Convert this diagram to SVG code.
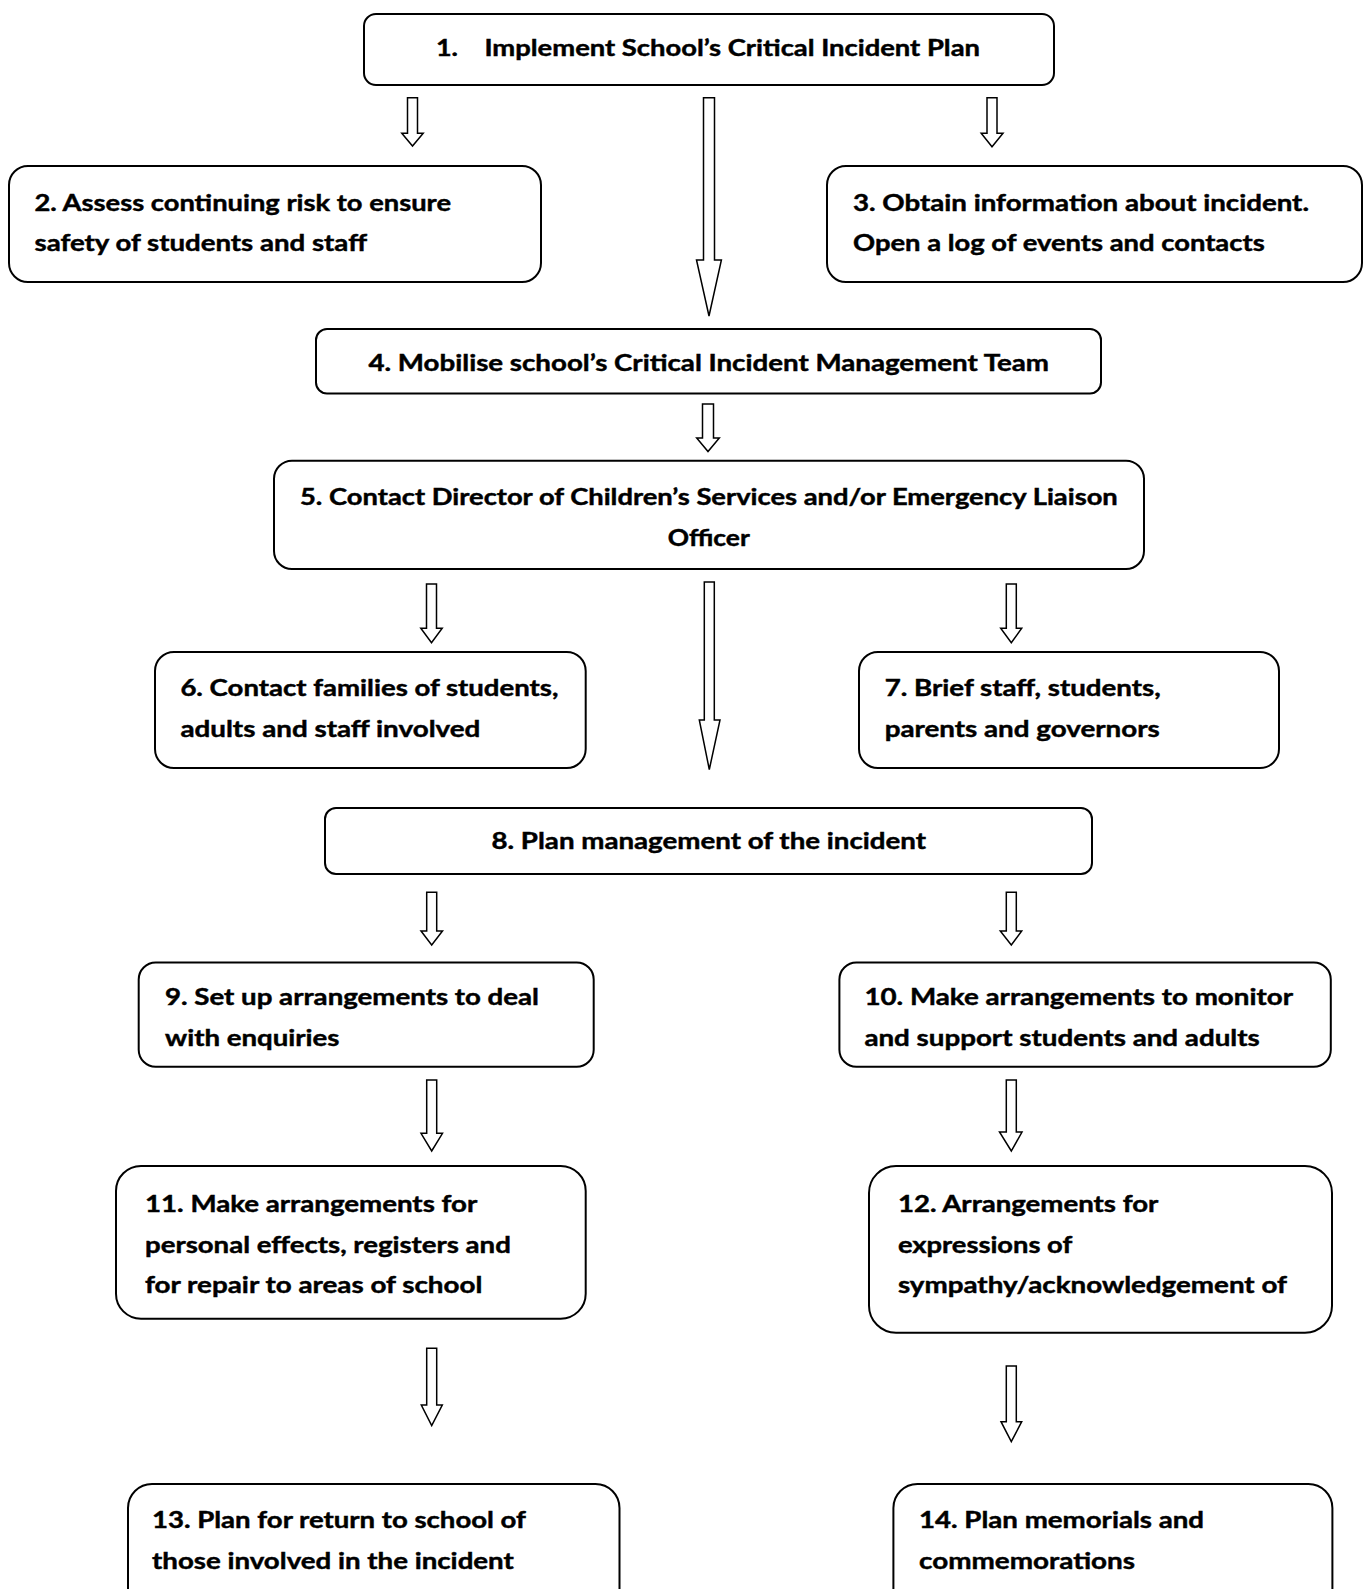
<svg xmlns="http://www.w3.org/2000/svg" width="1363" height="1589" viewBox="0 0 1363 1589">
<style>
.box{fill:#fff;stroke:#000;stroke-width:2}
.arr{fill:#fff;stroke:#000;stroke-width:1.5;stroke-linejoin:miter}
text{font-family:Lato,"Liberation Sans",sans-serif;font-weight:bold;font-size:23px;fill:#000;stroke:#000;stroke-width:0.45}
</style>
<rect width="1363" height="1589" fill="#fff"/>
<g id="connectors">
<polygon class="arr" points="407.5,97.7 417.5,97.7 417.5,133.3 423.2,133.3 412.5,146 401.8,133.3 407.5,133.3"/>
<polygon class="arr" points="703.5,97.7 714.5,97.7 714.5,260 721.4,260 709,316 696.5,260 703.5,260"/>
<polygon class="arr" points="987,97.7 997,97.7 997,133.3 1003,133.3 992,146.7 981.2,133.3 987,133.3"/>
<polygon class="arr" points="702.5,404 713.5,404 713.5,438 719.3,438 708,451.5 696.7,438 702.5,438"/>
<polygon class="arr" points="426.5,584 436.5,584 436.5,628.3 442.2,628.3 431.5,642.7 420.8,628.3 426.5,628.3"/>
<polygon class="arr" points="704.3,582 714.3,582 714.3,720 720,720 709.3,769.5 699.3,720 704.3,720"/>
<polygon class="arr" points="1006.3,584 1016.3,584 1016.3,628.3 1021.7,628.3 1011.3,642.7 1000.7,628.3 1006.3,628.3"/>
<polygon class="arr" points="426.7,892.3 436.7,892.3 436.7,931 442.5,931 431.7,945 421,931 426.7,931"/>
<polygon class="arr" points="1006.3,892.3 1016.3,892.3 1016.3,931 1021.7,931 1011.3,945 1000.3,931 1006.3,931"/>
<polygon class="arr" points="426.7,1080 436.7,1080 436.7,1133.3 442.5,1133.3 431.7,1151 421,1133.3 426.7,1133.3"/>
<polygon class="arr" points="1006.3,1080 1016.3,1080 1016.3,1132 1022,1132 1011.3,1151 999.5,1132 1006.3,1132"/>
<polygon class="arr" points="426.7,1348.3 436.7,1348.3 436.7,1405 442.3,1405 431.7,1425.7 421.3,1405 426.7,1405"/>
<polygon class="arr" points="1006.3,1366 1016.3,1366 1016.3,1421.7 1021.7,1421.7 1011.3,1441.7 1001,1421.7 1006.3,1421.7"/>
</g>
<g id="node1">
<rect class="box" x="364" y="14" width="690" height="71" rx="12"/>
<text y="55.5"><tspan x="436" textLength="22" lengthAdjust="spacingAndGlyphs">1.</tspan><tspan x="484.4" textLength="495.6" lengthAdjust="spacingAndGlyphs">Implement School’s Critical Incident Plan</tspan></text>
</g>
<g id="node2">
<rect class="box" x="9" y="166" width="532" height="116" rx="19"/>
<text x="34.5" y="210.5" textLength="416.5" lengthAdjust="spacingAndGlyphs">2. Assess continuing risk to ensure</text>
<text x="34.5" y="250.5" textLength="332.5" lengthAdjust="spacingAndGlyphs">safety of students and staff</text>
</g>
<g id="node3">
<rect class="box" x="827" y="166" width="535" height="116" rx="19"/>
<text x="853" y="210.5" textLength="456" lengthAdjust="spacingAndGlyphs">3. Obtain information about incident.</text>
<text x="853" y="250.5" textLength="411.7" lengthAdjust="spacingAndGlyphs">Open a log of events and contacts</text>
</g>
<g id="node4">
<rect class="box" x="316" y="329" width="785" height="64.5" rx="11"/>
<text x="368.5" y="370.5" textLength="680.5" lengthAdjust="spacingAndGlyphs">4. Mobilise school’s Critical Incident Management Team</text>
</g>
<g id="node5">
<rect class="box" x="274" y="460.7" width="870" height="108.3" rx="18"/>
<text x="300" y="504.5" textLength="817.8" lengthAdjust="spacingAndGlyphs">5. Contact Director of Children’s Services and/or Emergency Liaison</text>
<text x="667.8" y="545.5" textLength="82" lengthAdjust="spacingAndGlyphs">Officer</text>
</g>
<g id="node6">
<rect class="box" x="155" y="652" width="430.7" height="116" rx="19"/>
<text x="180.4" y="696" textLength="378" lengthAdjust="spacingAndGlyphs">6. Contact families of students,</text>
<text x="180.4" y="737" textLength="300" lengthAdjust="spacingAndGlyphs">adults and staff involved</text>
</g>
<g id="node7">
<rect class="box" x="859" y="652" width="420" height="116" rx="19"/>
<text x="884.7" y="696" textLength="276" lengthAdjust="spacingAndGlyphs">7. Brief staff, students,</text>
<text x="884.7" y="737" textLength="275" lengthAdjust="spacingAndGlyphs">parents and governors</text>
</g>
<g id="node8">
<rect class="box" x="325" y="808" width="767" height="66" rx="11"/>
<text x="491.5" y="849" textLength="434.5" lengthAdjust="spacingAndGlyphs">8. Plan management of the incident</text>
</g>
<g id="node9">
<rect class="box" x="138.7" y="962.5" width="455" height="104.2" rx="17"/>
<text x="165" y="1005" textLength="374" lengthAdjust="spacingAndGlyphs">9. Set up arrangements to deal</text>
<text x="165" y="1046" textLength="174.5" lengthAdjust="spacingAndGlyphs">with enquiries</text>
</g>
<g id="node10">
<rect class="box" x="839.4" y="962.5" width="491.4" height="104.2" rx="17"/>
<text x="864.4" y="1005" textLength="428.6" lengthAdjust="spacingAndGlyphs">10. Make arrangements to monitor</text>
<text x="864.4" y="1046" textLength="395.3" lengthAdjust="spacingAndGlyphs">and support students and adults</text>
</g>
<g id="node11">
<rect class="box" x="116" y="1166" width="469.7" height="152.7" rx="25"/>
<text x="145" y="1212" textLength="332.3" lengthAdjust="spacingAndGlyphs">11. Make arrangements for</text>
<text x="145" y="1252.5" textLength="365.8" lengthAdjust="spacingAndGlyphs">personal effects, registers and</text>
<text x="145" y="1293" textLength="337.4" lengthAdjust="spacingAndGlyphs">for repair to areas of school</text>
</g>
<g id="node12">
<rect class="box" x="869" y="1166" width="463" height="166.7" rx="27"/>
<text x="897.9" y="1212" textLength="260.4" lengthAdjust="spacingAndGlyphs">12. Arrangements for</text>
<text x="897.9" y="1252.5" textLength="174.3" lengthAdjust="spacingAndGlyphs">expressions of</text>
<text x="897.9" y="1293" textLength="389.1" lengthAdjust="spacingAndGlyphs">sympathy/acknowledgement of</text>
</g>
<g id="node13">
<rect class="box" x="128" y="1484" width="491.5" height="130" rx="24"/>
<text x="152" y="1528.3" textLength="374" lengthAdjust="spacingAndGlyphs">13. Plan for return to school of</text>
<text x="152" y="1569" textLength="361.8" lengthAdjust="spacingAndGlyphs">those involved in the incident</text>
</g>
<g id="node14">
<rect class="box" x="893.4" y="1484" width="439" height="130" rx="24"/>
<text x="919" y="1528.3" textLength="285" lengthAdjust="spacingAndGlyphs">14. Plan memorials and</text>
<text x="919" y="1569" textLength="216" lengthAdjust="spacingAndGlyphs">commemorations</text>
</g>
</svg>
